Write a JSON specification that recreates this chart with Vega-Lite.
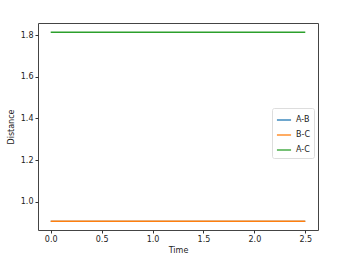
{
  "$schema": "https://vega.github.io/schema/vega-lite/v6.json",
  "autosize": "none",
  "width": 280,
  "height": 207,
  "padding": {"left": 38, "top": 23, "right": 32, "bottom": 29},
  "background": "white",
  "config": {
    "font": "DejaVu Sans",
    "view": {"stroke": "#444", "strokeWidth": 1},
    "axis": {
      "domain": false,
      "grid": false,
      "tickColor": "#333",
      "tickSize": 3,
      "labelFontSize": 8,
      "labelColor": "#222",
      "titleFontSize": 8,
      "titleFontWeight": "normal",
      "titleColor": "#222",
      "labelPadding": 2
    }
  },
  "data": {
    "values": [
      {"t": 0.0, "s": "A-B", "d": 0.9068}, {"t": 0.0, "s": "B-C", "d": 0.9068}, {"t": 0.0, "s": "A-C", "d": 1.8136},
      {"t": 0.25, "s": "A-B", "d": 0.9067}, {"t": 0.25, "s": "B-C", "d": 0.9067}, {"t": 0.25, "s": "A-C", "d": 1.8134},
      {"t": 0.5, "s": "A-B", "d": 0.9068}, {"t": 0.5, "s": "B-C", "d": 0.9068}, {"t": 0.5, "s": "A-C", "d": 1.8136},
      {"t": 0.75, "s": "A-B", "d": 0.9067}, {"t": 0.75, "s": "B-C", "d": 0.9067}, {"t": 0.75, "s": "A-C", "d": 1.8134},
      {"t": 1.0, "s": "A-B", "d": 0.9068}, {"t": 1.0, "s": "B-C", "d": 0.9068}, {"t": 1.0, "s": "A-C", "d": 1.8136},
      {"t": 1.25, "s": "A-B", "d": 0.9067}, {"t": 1.25, "s": "B-C", "d": 0.9067}, {"t": 1.25, "s": "A-C", "d": 1.8134},
      {"t": 1.5, "s": "A-B", "d": 0.9068}, {"t": 1.5, "s": "B-C", "d": 0.9068}, {"t": 1.5, "s": "A-C", "d": 1.8136},
      {"t": 1.75, "s": "A-B", "d": 0.9067}, {"t": 1.75, "s": "B-C", "d": 0.9067}, {"t": 1.75, "s": "A-C", "d": 1.8134},
      {"t": 2.0, "s": "A-B", "d": 0.9068}, {"t": 2.0, "s": "B-C", "d": 0.9068}, {"t": 2.0, "s": "A-C", "d": 1.8136},
      {"t": 2.25, "s": "A-B", "d": 0.9067}, {"t": 2.25, "s": "B-C", "d": 0.9067}, {"t": 2.25, "s": "A-C", "d": 1.8134},
      {"t": 2.5, "s": "A-B", "d": 0.9068}, {"t": 2.5, "s": "B-C", "d": 0.9068}, {"t": 2.5, "s": "A-C", "d": 1.8136}
    ]
  },
  "encoding": {
    "x": {
      "field": "t", "type": "quantitative", "title": "Time",
      "scale": {"domain": [-0.125, 2.625], "nice": false, "zero": false},
      "axis": {"values": [0, 0.5, 1.0, 1.5, 2.0, 2.5], "format": ".1f", "titlePadding": 3}
    },
    "y": {
      "field": "d", "type": "quantitative", "title": "Distance",
      "scale": {"domain": [0.865, 1.858], "nice": false, "zero": false},
      "axis": {"values": [1.0, 1.2, 1.4, 1.6, 1.8], "format": ".1f", "titlePadding": 5}
    },
    "color": {
      "field": "s", "type": "nominal",
      "scale": {"domain": ["A-B", "B-C", "A-C"], "range": ["#1f77b4", "#ff7f0e", "#2ca02c"]},
      "legend": {
        "title": null,
        "orient": "none",
        "legendX": 234,
        "legendY": 85,
        "symbolType": "stroke",
        "symbolSize": 200,
        "symbolStrokeWidth": 1.3,
        "labelFontSize": 8,
        "labelColor": "#222",
        "strokeColor": "#ddd",
        "fillColor": "white",
        "cornerRadius": 2,
        "padding": 4,
        "rowPadding": 3
      }
    },
    "order": {"field": "t", "type": "quantitative"}
  },
  "layer": [
    {
      "transform": [{"filter": "datum.s == 'A-B'"}],
      "mark": {"type": "line", "strokeWidth": 1.0}
    },
    {
      "transform": [{"filter": "datum.s != 'A-B'"}],
      "mark": {"type": "line", "strokeWidth": 1.4}
    }
  ]
}
